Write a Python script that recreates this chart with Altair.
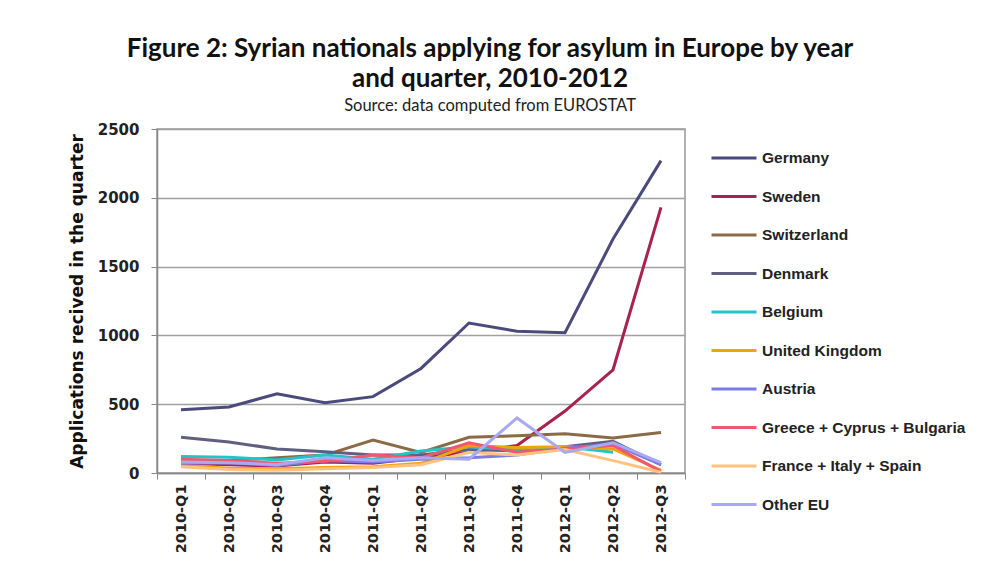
import altair as alt
import pandas as pd

quarters = ["2010-Q1", "2010-Q2", "2010-Q3", "2010-Q4", "2011-Q1", "2011-Q2",
            "2011-Q3", "2011-Q4", "2012-Q1", "2012-Q2", "2012-Q3"]

series_names = ["Germany", "Sweden", "Switzerland", "Denmark", "Belgium",
                "United Kingdom", "Austria", "Greece + Cyprus + Bulgaria",
                "France + Italy + Spain", "Other EU"]

germany = [460, 480, 575, 510, 555, 760, 1090, 1030, 1020, 1700, 2270]
sweden = [70, 60, 50, 80, 70, 110, 150, 200, 450, 750, 1930]
switzerland = [90, 90, 110, 130, 240, 150, 260, 270, 285, 255, 295]
denmark = [260, 225, 175, 155, 130, 130, 170, 160, 190, 230, 60]
belgium = [120, 115, 95, 130, 100, 160, 190, 170, 190, 150, None]
united_kingdom = [55, 35, 30, 40, 45, 70, 200, 185, 190, 175, 20]
austria = [70, 75, 55, 90, 80, 100, 110, 130, 180, 210, 60]
greece_cyprus_bulgaria = [100, 90, 70, 85, 130, 110, 220, 150, 175, 200, 10]
france_italy_spain = [45, 25, 20, 30, 40, 60, 150, 130, 170, 90, 5]
other_eu = [80, 75, 60, 110, 90, 110, 100, 400, 150, 220, 75]

colors = ["#4A4A7C", "#A8224F", "#8B6B45", "#5F5F80", "#22C4C8",
          "#F5A10A", "#7B7BE6", "#F0586E", "#FFC27F", "#A9A9F3"]

all_values = [germany, sweden, switzerland, denmark, belgium, united_kingdom,
              austria, greece_cyprus_bulgaria, france_italy_spain, other_eu]

rows = []
for name, vals in zip(series_names, all_values):
    for q, v in zip(quarters, vals):
        if v is not None:
            rows.append({"quarter": q, "country": name, "value": v})
df = pd.DataFrame(rows)

font = "Lato"
wide = "DejaVu Sans"
legend_font = "Liberation Sans"

chart = alt.Chart(df).mark_line(strokeWidth=3).encode(
    x=alt.X("quarter:N", sort=quarters, title=None,
            scale=alt.Scale(paddingInner=0, paddingOuter=0),
            axis=alt.Axis(labelAngle=-90, labelFontSize=14.5, labelFontWeight="bold",
                          labelFont=wide,
                          labelColor="#222", tickBand="extent", domainColor="#888",
                          tickColor="#888", tickSize=6, labelPadding=5,
                          domainWidth=1.5, grid=False)),
    y=alt.Y("value:Q", title="Applications recived in the quarter",
            scale=alt.Scale(domain=[0, 2500]),
            axis=alt.Axis(values=[0, 500, 1000, 1500, 2000, 2500], format="d",
                          labelFont=wide, titleFont=wide,
                          labelFontSize=15, labelFontWeight="bold", labelColor="#222",
                          titleFontSize=17, titleFontWeight="bold", titleColor="#111",
                          gridColor="#A0A0A0", gridWidth=1.5, domainColor="#888",
                          domainWidth=1.5, tickColor="#888", tickSize=6,
                          titlePadding=11, labelPadding=12)),
    color=alt.Color("country:N", sort=series_names,
                    scale=alt.Scale(domain=series_names, range=colors),
                    legend=alt.Legend(title=None, orient="none", legendX=553, legendY=5,
                                      symbolType="stroke", symbolStrokeWidth=3,
                                      symbolSize=2025, labelFontSize=15.5,
                                      labelFont=legend_font,
                                      labelFontWeight="bold", labelColor="#222",
                                      labelLimit=400,
                                      rowPadding=5.5, labelOffset=4)),
).properties(
    width=528,
    height=344,
    title=alt.TitleParams(
        text=["Figure 2: Syrian nationals applying for asylum in Europe by year",
              "and quarter, 2010-2012"],
        subtitle="Source: data computed from EUROSTAT",
        fontSize=26, fontWeight="bold", font=font, color="#111",
        subtitleFontSize=16.5, subtitleFont=font, subtitleColor="#222",
        lineHeight=30, subtitlePadding=6, offset=8, dx=69, anchor="middle"),
    autosize=alt.AutoSizeParams(type="none"),
    padding={"left": 149, "top": 121, "right": 288, "bottom": 83},
).configure(font=font).configure_view(stroke="#999", strokeWidth=1.5)

chart.save("out.html", embed_options={"renderer": "svg", "actions": False})
